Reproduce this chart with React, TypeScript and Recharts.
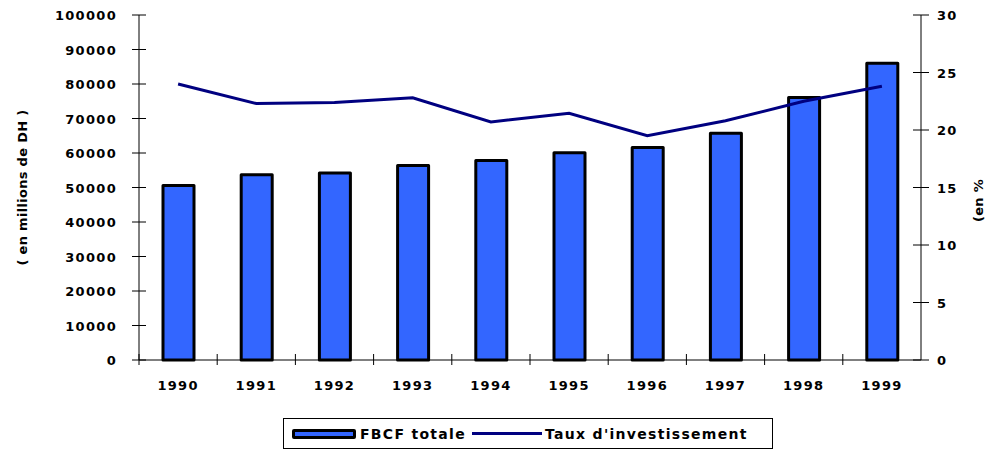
import React from 'react';
import { ComposedChart, Bar, Line, XAxis, YAxis, Legend } from 'recharts';

const years = ['1990', '1991', '1992', '1993', '1994', '1995', '1996', '1997', '1998', '1999'];
const fbcfTotale = [50600, 53700, 54200, 56400, 57800, 60100, 61600, 65700, 76100, 86000];
const tauxInvestissement = [24.0, 22.3, 22.4, 22.8, 20.7, 21.45, 19.5, 20.8, 22.5, 23.8];
const leftTicks = [0, 10000, 20000, 30000, 40000, 50000, 60000, 70000, 80000, 90000, 100000];
const rightTicks = [0, 5, 10, 15, 20, 25, 30];

const data = years.map((y, i) => ({ year: y, fbcf: fbcfTotale[i], taux: tauxInvestissement[i] }));

const FONT = '"DejaVu Sans", Verdana, sans-serif';
const W = 987;
const H = 452;
const PLOT_LEFT = 139;
const PLOT_RIGHT = 921;
const BAND = (PLOT_RIGHT - PLOT_LEFT) / years.length;

const textStyle = { fontFamily: FONT, fontWeight: 'bold', fontSize: 13, letterSpacing: 1.3, fill: '#000' } as any;

const LeftTick = (props: any) => {
  const { y, payload } = props;
  return (
    <g>
      <line x1={PLOT_LEFT - 7} x2={PLOT_LEFT + 7} y1={y} y2={y} stroke="#000" strokeWidth={1} />
      <text x={PLOT_LEFT - 22} y={y} dy={5} textAnchor="end" {...textStyle}>{payload.value}</text>
    </g>
  );
};

const RightTick = (props: any) => {
  const { y, payload } = props;
  return (
    <g>
      <line x1={PLOT_RIGHT - 8} x2={PLOT_RIGHT + 8} y1={y} y2={y} stroke="#000" strokeWidth={1} />
      <text x={PLOT_RIGHT + 16} y={y} dy={5} textAnchor="start" {...textStyle}>{payload.value}</text>
    </g>
  );
};

const BottomTick = (props: any) => {
  const { x, payload } = props;
  const axisY = 360;
  return (
    <g>
      <line x1={x - BAND / 2} x2={x - BAND / 2} y1={axisY - 6} y2={axisY + 5} stroke="#000" strokeWidth={1} />
      <text x={x} y={axisY + 30} textAnchor="middle" {...textStyle}>{payload.value}</text>
    </g>
  );
};

const LegendContent = () => (
  <div
    style={{
      border: '1px solid #000',
      height: 31,
      boxSizing: 'border-box',
      display: 'flex',
      alignItems: 'center',
      fontFamily: FONT,
      fontWeight: 'bold',
      fontSize: 14,
      letterSpacing: 1.3,
      color: '#000',
      background: '#fff',
    }}
  >
    <div style={{ width: 64, height: 10, background: '#3366FF', border: '3px solid #000', borderRadius: 2, boxSizing: 'border-box', marginLeft: 8 }} />
    <span style={{ marginLeft: 4 }}>FBCF totale</span>
    <div style={{ width: 70, height: 3, background: '#000080', marginLeft: 6 }} />
    <span style={{ marginLeft: 3 }}>Taux d'investissement</span>
  </div>
);

export default function App() {
  return (
    <div style={{ position: 'absolute', left: 0, top: 0, width: W, height: H, background: '#fff' }}>
      <ComposedChart
        width={W}
        height={H}
        data={data}
        margin={{ top: 15, right: 0, left: 0, bottom: 2 }}
        barCategoryGap={0}
      >
        <XAxis
          dataKey="year"
          xAxisId="x"
          tick={<BottomTick />}
          tickLine={false}
          axisLine={{ stroke: '#000', strokeWidth: 1 }}
          height={58}
          interval={0}
        />
        <YAxis
          yAxisId="left"
          orientation="left"
          width={PLOT_LEFT}
          domain={[0, 100000]}
          ticks={leftTicks}
          tick={<LeftTick />}
          tickLine={false}
          axisLine={{ stroke: '#000', strokeWidth: 1 }}
          interval={0}
          label={{
            content: (p: any) => {
              const vb = p.viewBox;
              const cx = vb.x + 22;
              const cy = vb.y + vb.height / 2;
              return (
                <text x={cx} y={cy} transform={`rotate(-90 ${cx} ${cy})`} textAnchor="middle" dominantBaseline="central" {...textStyle} fontSize={13} letterSpacing={0.3}>
                  ( en millions de DH )
                </text>
              );
            },
          }}
        />
        <YAxis
          yAxisId="right"
          orientation="right"
          width={W - PLOT_RIGHT}
          domain={[0, 30]}
          ticks={rightTicks}
          tick={<RightTick />}
          tickLine={false}
          axisLine={{ stroke: '#000', strokeWidth: 1 }}
          interval={0}
          label={{
            content: (p: any) => {
              const vb = p.viewBox;
              const cx = vb.x + 57;
              const cy = vb.y + vb.height / 2 + 13;
              return (
                <text x={cx} y={cy} transform={`rotate(-90 ${cx} ${cy})`} textAnchor="middle" dominantBaseline="central" {...textStyle} fontSize={13} letterSpacing={0.3}>
                  (en %
                </text>
              );
            },
          }}
        />
        <Legend
          verticalAlign="bottom"
          height={32}
          content={<LegendContent />}
          wrapperStyle={{ left: 283, width: 490, bottom: 2 }}
        />
        <Bar
          xAxisId="x"
          yAxisId="left"
          dataKey="fbcf"
          name="FBCF totale"
          fill="#3366FF"
          stroke="#000"
          strokeWidth={3}
          strokeLinejoin="round"
          barSize={31}
          isAnimationActive={false}
        />
        <Line
          xAxisId="x"
          yAxisId="right"
          dataKey="taux"
          name="Taux d'investissement"
          type="linear"
          stroke="#000080"
          strokeWidth={3}
          dot={false}
          activeDot={false}
          isAnimationActive={false}
        />
      </ComposedChart>
    </div>
  );
}
